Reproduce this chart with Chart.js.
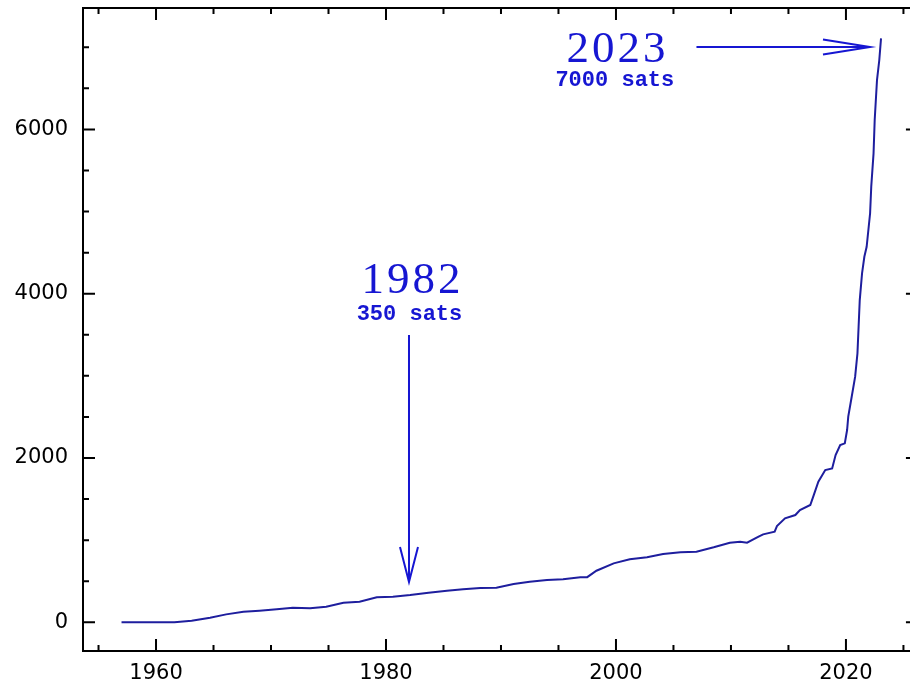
<!DOCTYPE html>
<html>
<head>
<meta charset="utf-8">
<script src="https://cdn.jsdelivr.net/npm/chart.js@4/dist/chart.umd.min.js"></script>
<style>
    html, body { margin: 0; padding: 0; background: #fff; }
    #wrap { width: 910px; height: 681px; }
</style>
</head>
<body>
<div id="wrap"><canvas id="sats-chart"></canvas></div>
<script>
// satellites in orbit
const YEARS = [
    1957.0, 1958.5, 1960.0, 1961.6, 1963.1, 1964.7, 1966.1, 1967.6, 1969.0, 1970.5,
    1971.9, 1973.4, 1974.8, 1976.3, 1977.7, 1979.2, 1980.6, 1982.1, 1983.7, 1985.3,
    1986.7, 1988.2, 1989.6, 1991.1, 1992.5, 1994.0, 1995.4, 1996.9, 1997.5, 1998.3,
    1999.8, 2001.2, 2002.7, 2004.1, 2005.6, 2007.0, 2008.5, 2009.9, 2010.8, 2011.4,
    2012.4, 2012.8, 2013.8, 2014.0, 2014.7, 2015.6, 2016.0, 2016.9, 2017.2, 2017.6,
    2018.2, 2018.8, 2019.1, 2019.5, 2019.9, 2020.1, 2020.2, 2020.5, 2020.8, 2021.0,
    2021.1, 2021.2, 2021.4, 2021.6, 2021.8, 2022.1, 2022.2, 2022.4, 2022.5, 2022.7,
    2022.9, 2023.05,
];
const SATS = [
    0, 0, 0, 2, 20, 56, 97, 129, 141, 158,
    178, 170, 190, 239, 251, 304, 312, 332, 360, 385,
    402, 418, 421, 466, 494, 515, 523, 548, 550, 628,
    718, 767, 791, 831, 852, 859, 913, 969, 981, 969,
    1042, 1071, 1103, 1172, 1266, 1306, 1367, 1428, 1549, 1711,
    1854, 1874, 2036, 2158, 2179, 2341, 2503, 2746, 2990, 3274,
    3598, 3923, 4248, 4450, 4572, 4979, 5303, 5709, 6114, 6601,
    6845, 7109,
];

const X_TICKS = [1960, 1980, 2000, 2020];
const X_MINOR = [1955, 1965, 1970, 1975, 1985, 1990, 1995, 2005, 2010, 2015, 2025];
const Y_TICKS = [0, 2000, 4000, 6000];
const Y_MINOR = [500, 1000, 1500, 2500, 3000, 3500, 4500, 5000, 5500, 6500, 7000];
// the box's right side sits just past the visible edge
const X_BOX_RIGHT = 2026.26;

// annotation labels: [text, year, value]
const BIG_LABELS = [["2023", 2000.0, 6820], ["1982", 1982.17, 4008]];
const SMALL_LABELS = [["7000 sats", 1999.9, 6528], ["350 sats", 1982.04, 3680]];
// arrows: [fromYear, fromValue, toYear, toValue]
const ARROWS = [[2007.0, 7003, 2022.09, 7003], [1982.0, 3497, 1982.0, 490]];

const LINE_COLOR = "#1e1e9e";
const NOTE_COLOR = "#1616d2";

const framePlugin = {
    id: "frame",
    afterDraw(chart) {
        const { ctx, chartArea: a, scales: { x, y } } = chart;
        const right = x.getPixelForValue(X_BOX_RIGHT);
        ctx.save();
        ctx.strokeStyle = "#000";
        ctx.lineWidth = 2;
        ctx.beginPath();
        ctx.rect(a.left, a.top, right - a.left, a.bottom - a.top);
        ctx.stroke();

        const tick = (vals, len) => {
            vals.forEach(v => {
                const px = x.getPixelForValue(v);
                ctx.moveTo(px, a.bottom); ctx.lineTo(px, a.bottom - len);
                ctx.moveTo(px, a.top); ctx.lineTo(px, a.top + len);
            });
        };
        const ytick = (vals, len) => {
            vals.forEach(v => {
                const py = y.getPixelForValue(v);
                ctx.moveTo(a.left, py); ctx.lineTo(a.left + len, py);
                ctx.moveTo(right, py); ctx.lineTo(right - len, py);
            });
        };
        ctx.beginPath();
        tick(X_TICKS, 12); tick(X_MINOR, 6);
        ytick(Y_TICKS, 12); ytick(Y_MINOR, 6);
        ctx.stroke();

        // arrows
        ctx.strokeStyle = NOTE_COLOR;
        ctx.lineWidth = 2;
        ARROWS.forEach(([x0, y0, x1, y1], i) => {
            const ax = x.getPixelForValue(x0), ay = y.getPixelForValue(y0);
            const bx = x.getPixelForValue(x1), by = y.getPixelForValue(y1);
            const ang = Math.atan2(by - ay, bx - ax);
            const len = i === 0 ? 47 : 35, half = i === 0 ? 7.5 : 9;
            const hx = bx - len * Math.cos(ang), hy = by - len * Math.sin(ang);
            const nx = -Math.sin(ang) * half, ny = Math.cos(ang) * half;
            ctx.beginPath();
            ctx.moveTo(ax, ay); ctx.lineTo(bx, by);
            ctx.moveTo(hx + nx, hy + ny); ctx.lineTo(bx, by); ctx.lineTo(hx - nx, hy - ny);
            ctx.stroke();
        });

        ctx.fillStyle = NOTE_COLOR;
        ctx.textAlign = "center";
        ctx.textBaseline = "alphabetic";
        ctx.font = "45px 'Liberation Serif'";
        ctx.letterSpacing = "3px";
        BIG_LABELS.forEach(([t, xv, yv]) => ctx.fillText(t, x.getPixelForValue(xv) + 1.5, y.getPixelForValue(yv)));
        ctx.letterSpacing = "0px";
        ctx.font = "bold 22px 'Liberation Mono'";
        SMALL_LABELS.forEach(([t, xv, yv]) => ctx.fillText(t, x.getPixelForValue(xv), y.getPixelForValue(yv)));
        ctx.restore();
    },
};

const tickFont = { family: "'DejaVu Sans'", size: 21 };

new Chart(document.getElementById("sats-chart"), {
    type: "line",
    data: {
        datasets: [{
            data: YEARS.map((yr, i) => ({ x: yr, y: SATS[i] })),
            borderColor: LINE_COLOR,
            borderWidth: 2,
            pointRadius: 0,
            tension: 0,
            fill: false,
        }],
    },
    options: {
        responsive: true,
        maintainAspectRatio: false,
        animation: false,
        layout: { padding: { top: 8, right: 0, bottom: 0, left: 0 } },
        plugins: { legend: { display: false }, tooltip: { enabled: false } },
        scales: {
            x: {
                type: "linear",
                min: 1953.65,
                max: 2025.57,
                afterBuildTicks: s => { s.ticks = X_TICKS.map(v => ({ value: v })); },
                afterFit: s => { s.height = 30; s.paddingLeft = 0; s.paddingRight = 0; },
                grid: { display: false, drawTicks: false },
                border: { display: false },
                ticks: { font: tickFont, color: "#000", padding: 10, maxRotation: 0, callback: v => String(v) },
            },
            y: {
                min: -349,
                max: 7478,
                afterBuildTicks: s => { s.ticks = Y_TICKS.map(v => ({ value: v })); },
                afterFit: s => { s.width = 83; s.paddingTop = 0; s.paddingBottom = 0; },
                grid: { display: false, drawTicks: false },
                border: { display: false },
                ticks: { font: tickFont, color: "#000", padding: 15, callback: v => String(v) },
            },
        },
    },
    plugins: [framePlugin],
});
</script>
</body>
</html>
